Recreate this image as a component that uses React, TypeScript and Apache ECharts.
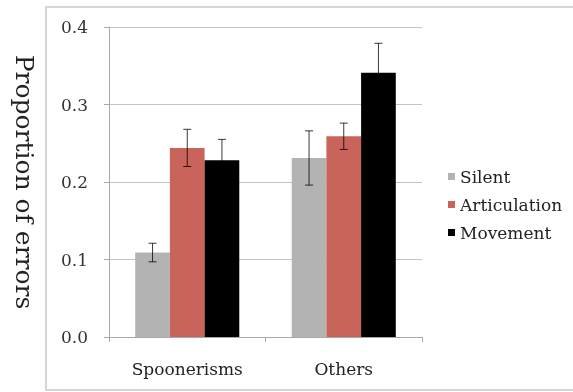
import React, { useEffect, useRef } from "react";
import * as echarts from "echarts";

const categories = ["Spoonerisms", "Others"];
const seriesNames = ["Silent", "Articulation", "Movement"];
const silentValues = [0.109, 0.231];
const silentErrors = [0.012, 0.035];
const articulationValues = [0.244, 0.259];
const articulationErrors = [0.024, 0.017];
const movementValues = [0.228, 0.341];
const movementErrors = [0.027, 0.038];
const yTicks = [0, 0.1, 0.2, 0.3, 0.4];

const colors = ["#b3b3b3", "#c9645a", "#000000"];
const FONT = "DejaVu Serif";
const CAT_GAP = 0.335;

export default function App() {
  const ref = useRef<HTMLDivElement>(null);
  useEffect(() => {
    if (!ref.current) return;
    const chart = echarts.init(ref.current, undefined, { renderer: "svg" });
    const values = [silentValues, articulationValues, movementValues];
    const errors = [silentErrors, articulationErrors, movementErrors];

    const barSeries = seriesNames.map((name, i) => ({
      name,
      type: "bar",
      data: values[i],
      barGap: "0%",
      barCategoryGap: CAT_GAP * 100 + "%",
      itemStyle: { color: colors[i] },
      z: 2,
    }));

    const errSeries = seriesNames.map((name, i) => ({
      name: name + " error",
      type: "custom",
      z: 5,
      silent: true,
      encode: { x: 0, y: 1 },
      data: categories.map((_, j) => [j, values[i][j], errors[i][j]]),
      renderItem: (params: any, api: any) => {
        const cat = api.value(0);
        const v = api.value(1);
        const e = api.value(2);
        const band = api.size([1, 0])[0];
        const barW = (band * (1 - CAT_GAP)) / 3;
        const center = api.coord([cat, v]);
        const x = center[0] + (i - 1) * barW;
        const top = api.coord([cat, v + e])[1];
        const bot = api.coord([cat, v - e])[1];
        const cap = 4;
        const style = { stroke: "rgba(0,0,0,0.78)", lineWidth: 1 };
        return {
          type: "group",
          children: [
            { type: "line", shape: { x1: x, y1: top, x2: x, y2: bot }, style },
            { type: "line", shape: { x1: x - cap, y1: top, x2: x + cap, y2: top }, style },
            { type: "line", shape: { x1: x - cap, y1: bot, x2: x + cap, y2: bot }, style },
          ],
        };
      },
    }));

    chart.setOption({
      animation: false,
      textStyle: { fontFamily: FONT },
      graphic: [
        {
          type: "rect",
          shape: { x: 46, y: 7, width: 560, height: 383 },
          style: { fill: "none", stroke: "#d6d6d6", lineWidth: 2 },
          z: -1,
        },
      ],
      grid: { left: 109, top: 27, right: 151, bottom: 55 },
      legend: {
        data: seriesNames,
        orient: "vertical",
        left: 443,
        top: 163,
        itemWidth: 7,
        itemHeight: 7,
        itemGap: 11,
        itemTextGap: 6,
        icon: "rect",
        textStyle: { fontFamily: FONT, fontSize: 17, color: "#222" },
      },
      xAxis: {
        type: "category",
        data: categories,
        axisLine: { lineStyle: { color: "#a8a8a8", width: 1 } },
        axisTick: { show: true, length: 5, lineStyle: { color: "#a8a8a8" } },
        axisLabel: { fontFamily: FONT, fontSize: 17, color: "#222", margin: 23 },
      },
      yAxis: {
        type: "value",
        min: 0,
        max: 0.4,
        interval: 0.1,
        name: "Proportion of errors",
        nameLocation: "middle",
        nameRotate: -90,
        nameGap: 72,
        nameTextStyle: { fontFamily: FONT, fontSize: 25, color: "#222" },
        axisLine: { show: true, lineStyle: { color: "#a8a8a8", width: 1 } },
        axisTick: { show: true, length: 5, lineStyle: { color: "#a8a8a8" } },
        splitLine: { lineStyle: { color: "#c4c4c4", width: 1 } },
        axisLabel: {
          fontFamily: FONT,
          fontSize: 17,
          color: "#333",
          margin: 21,
          formatter: (v: number) => (yTicks.indexOf(Math.round(v * 10) / 10) >= 0 ? v.toFixed(1) : ""),
        },
      },
      series: [...barSeries, ...errSeries],
    });
    return () => chart.dispose();
  }, []);
  return <div ref={ref} style={{ position: "fixed", left: 0, top: 0, width: 573, height: 392 }} />;
}
